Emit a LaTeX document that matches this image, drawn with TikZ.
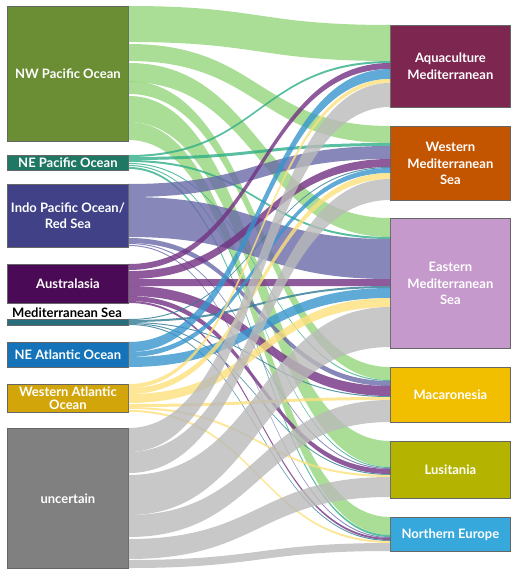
\documentclass[tikz,border=0pt]{standalone}
\usepackage{fontspec}
\setmainfont{Lato}
% node colours
\definecolor{cNWP}{HTML}{6B8E34}
\definecolor{cNEP}{HTML}{1E7864}
\definecolor{cIndo}{HTML}{414187}
\definecolor{cAus}{HTML}{4B0A55}
\definecolor{cMedS}{HTML}{286E7D}
\definecolor{cNEA}{HTML}{1473B9}
\definecolor{cWA}{HTML}{D2A50A}
\definecolor{cUnc}{HTML}{808080}
\definecolor{cAqua}{HTML}{7D2650}
\definecolor{cWMed}{HTML}{C35500}
\definecolor{cEMed}{HTML}{C599CB}
\definecolor{cMaca}{HTML}{F2BE00}
\definecolor{cLusi}{HTML}{B4B400}
\definecolor{cNEur}{HTML}{37A8DC}
% flow colours
\definecolor{fNWP}{HTML}{95D67C}
\definecolor{fNEP}{HTML}{31AE88}
\definecolor{fIndo}{HTML}{6969A8}
\definecolor{fAus}{HTML}{723182}
\definecolor{fMedS}{HTML}{317C95}
\definecolor{fNEA}{HTML}{3795CD}
\definecolor{fWA}{HTML}{FCE07C}
\definecolor{fUnc}{HTML}{BABABA}
% band: source, source offset, target, target offset, width, colour
\newcommand{\band}[6]{%
  \fill[#6,fill opacity=0.8] ([yshift=-#2pt]#1.north east)
    .. controls +(131pt,0pt) and +(-131pt,0pt) .. ([yshift=-#4pt]#3.north west)
    -- ([yshift=-#4pt-#5pt]#3.north west)
    .. controls +(-131pt,0pt) and +(131pt,0pt) .. ([yshift=-#2pt-#5pt]#1.north east) -- cycle;}
\begin{document}
\begin{tikzpicture}[x=1pt,y=-1pt,
    box/.style={draw=black!60,line width=0.8pt,anchor=north west,inner sep=0pt,
      text=white,align=center,font=\bfseries\fontsize{13}{16.5}\selectfont},
    srcbox/.style={box,minimum width=121pt},
    tgtbox/.style={box,minimum width=120pt}]
  \useasboundingbox (0,0) rectangle (519,569);
  % sources
  \node[srcbox,fill=cNWP,minimum height=135pt] (nwp) at (7,6) {NW Pacific Ocean};
  \node[srcbox,fill=cNEP,minimum height=15pt] (nep) at (7,155) {NE Pacific Ocean};
  \node[srcbox,fill=cIndo,minimum height=63pt] (indo) at (7,184) {Indo Pacific Ocean/\\Red Sea};
  \node[srcbox,fill=cAus,minimum height=39pt] (aus) at (7,264) {Australasia};
  \node[srcbox,fill=cMedS,minimum height=6pt] (meds) at (7,319) {};
  \node[font=\bfseries\fontsize{13}{16.5}\selectfont] (medslbl) at (67,313) {Mediterranean Sea};
  \node[srcbox,fill=cNEA,minimum height=25pt] (nea) at (7,342) {NE Atlantic Ocean};
  \node[srcbox,fill=cWA,minimum height=28pt,font=\bfseries\fontsize{13}{13}\selectfont] (wa) at (7,384) {Western Atlantic\\Ocean};
  \node[srcbox,fill=cUnc,minimum height=140pt] (unc) at (7,428) {uncertain};
  % targets
  \node[tgtbox,fill=cAqua,minimum height=82pt] (aqua) at (390,25) {Aquaculture\\Mediterranean};
  \node[tgtbox,fill=cWMed,minimum height=74pt] (wmed) at (390,126) {Western\\Mediterranean\\Sea};
  \node[tgtbox,fill=cEMed,minimum height=130pt] (emed) at (390,218) {Eastern\\Mediterranean\\Sea};
  \node[tgtbox,fill=cMaca,minimum height=55pt] (maca) at (390,367) {Macaronesia};
  \node[tgtbox,fill=cLusi,minimum height=57pt] (lusi) at (390,441) {Lusitania};
  \node[tgtbox,fill=cNEur,minimum height=34pt] (neur) at (390,517) {Northern Europe};
  %
  \band{nwp}{0}{aqua}{0}{36}{fNWP}
  \band{nwp}{38}{wmed}{0}{17}{fNWP}
  \band{nwp}{57}{emed}{0}{19}{fNWP}
  \band{nwp}{75}{maca}{0}{13}{fNWP}
  \band{nwp}{90}{lusi}{0}{26}{fNWP}
  \band{nwp}{116}{neur}{0}{18}{fNWP}
  %
  \band{nep}{0}{aqua}{36}{2}{fNEP}
  \band{nep}{2}{wmed}{17}{3}{fNEP}
  \band{nep}{5}{emed}{19}{2}{fNEP}
  \band{nep}{8}{maca}{13}{1}{fNEP}
  \band{nep}{10}{lusi}{26}{1}{fNEP}
  \band{nep}{12}{neur}{18}{2}{fNEP}
  %
  \band{indo}{0}{wmed}{20}{13}{fIndo}
  \band{indo}{13}{emed}{21}{40}{fIndo}
  \band{indo}{54}{maca}{14}{5}{fIndo}
  \band{indo}{59}{lusi}{27}{1}{fIndo}
  \band{indo}{61}{neur}{20}{1}{fIndo}
  %
  \band{aus}{0}{aqua}{38}{6}{fAus}
  \band{aus}{7}{wmed}{33}{8}{fAus}
  \band{aus}{15}{emed}{61}{7}{fAus}
  \band{aus}{22}{maca}{19}{10}{fAus}
  \band{aus}{32}{lusi}{28}{5}{fAus}
  \band{aus}{37}{neur}{21}{2}{fAus}
  %
  \band{meds}{0}{wmed}{41}{1}{fMedS}
  \band{meds}{1}{emed}{68}{2}{fMedS}
  \band{meds}{3}{maca}{29}{1}{fMedS}
  \band{meds}{4}{lusi}{33}{1}{fMedS}
  \band{meds}{5}{neur}{23}{1}{fMedS}
  %
  \band{nea}{0}{aqua}{44}{10}{fNEA}
  \band{nea}{10}{wmed}{42}{5}{fNEA}
  \band{nea}{15}{emed}{70}{10}{fNEA}
  %
  \band{wa}{0}{aqua}{54}{4}{fWA}
  \band{wa}{4}{wmed}{47}{6}{fWA}
  \band{wa}{10}{emed}{80}{9}{fWA}
  \band{wa}{20}{maca}{30}{3}{fWA}
  \band{wa}{23}{lusi}{34}{2}{fWA}
  \band{wa}{26}{neur}{24}{2}{fWA}
  %
  \band{unc}{0}{aqua}{58}{24}{fUnc}
  \band{unc}{24}{wmed}{53}{21}{fUnc}
  \band{unc}{47}{emed}{89}{40}{fUnc}
  \band{unc}{87}{maca}{33}{22}{fUnc}
  \band{unc}{111}{lusi}{36}{20}{fUnc}
  \band{unc}{132}{neur}{26}{8}{fUnc}
\end{tikzpicture}
\end{document}
